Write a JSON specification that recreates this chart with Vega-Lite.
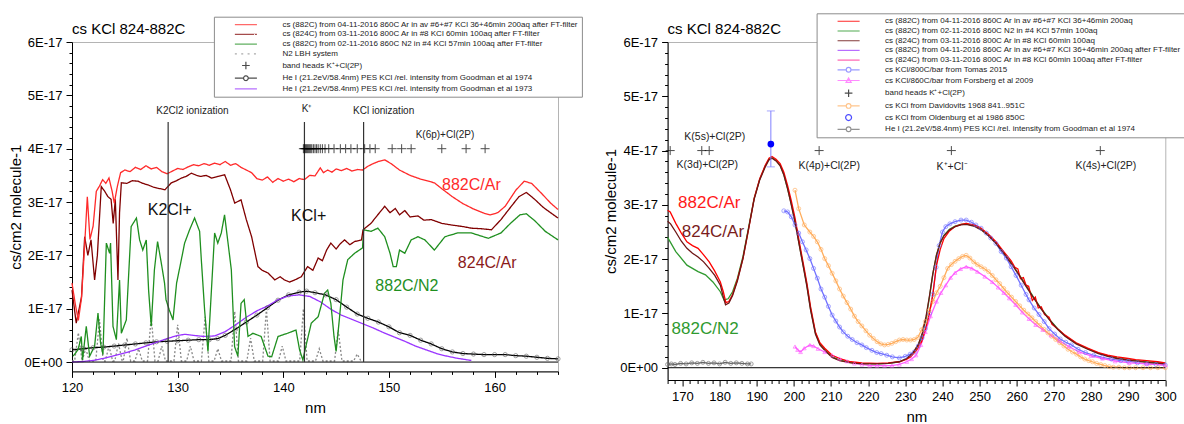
{
"$schema":"https://vega.github.io/schema/vega-lite/v6.json",
"background":"white",
"padding":{"left":7,"top":12,"right":2,"bottom":0},
"config":{"font":"Liberation Sans","view":{"stroke":"#b4b4b4","strokeWidth":1},
"axis":{"grid":false,"domainColor":"#000","tickColor":"#000","labelColor":"#000","titleColor":"#000","titleFontWeight":"normal","labelFont":"Liberation Sans","titleFont":"Liberation Sans"},
"title":{"fontSize":15,"fontWeight":"normal","anchor":"start","frame":"group","color":"#000","font":"Liberation Sans"}},
"datasets":{
"L":[
{"s":"n","nm":120.0,"cs":0.02},{"s":"n","nm":120.25,"cs":0.02},{"s":"n","nm":120.6,"cs":0.55},{"s":"n","nm":120.95,"cs":0.02},{"s":"n","nm":121.3,"cs":0.25},{"s":"n","nm":121.65,"cs":0.02},{"s":"n","nm":122.25,"cs":0.02},{"s":"n","nm":122.6,"cs":0.8},{"s":"n","nm":122.95,"cs":0.02},{"s":"n","nm":123.15,"cs":0.02},{"s":"n","nm":123.5,"cs":0.3},{"s":"n","nm":123.85,"cs":0.02},{"s":"n","nm":124.05,"cs":0.02},{"s":"n","nm":124.4,"cs":0.35},{"s":"n","nm":124.75,"cs":0.02},{"s":"n","nm":124.85,"cs":0.02},{"s":"n","nm":125.2,"cs":0.45},{"s":"n","nm":125.55,"cs":0.02},{"s":"n","nm":125.95,"cs":0.02},{"s":"n","nm":126.3,"cs":0.25},{"s":"n","nm":126.65,"cs":0.02},{"s":"n","nm":127.15,"cs":0.02},{"s":"n","nm":127.5,"cs":0.85},{"s":"n","nm":127.85,"cs":0.02},{"s":"n","nm":128.15,"cs":0.02},{"s":"n","nm":128.5,"cs":0.3},{"s":"n","nm":128.85,"cs":0.02},{"s":"n","nm":129.65,"cs":0.02},{"s":"n","nm":130.0,"cs":0.7},{"s":"n","nm":130.35,"cs":0.02},{"s":"n","nm":130.85,"cs":0.02},{"s":"n","nm":131.2,"cs":0.3},{"s":"n","nm":131.55,"cs":0.02},{"s":"n","nm":132.25,"cs":0.02},{"s":"n","nm":132.6,"cs":0.85},{"s":"n","nm":132.95,"cs":0.02},{"s":"n","nm":133.45,"cs":0.02},{"s":"n","nm":133.8,"cs":0.25},{"s":"n","nm":134.15,"cs":0.02},{"s":"n","nm":135.05,"cs":0.02},{"s":"n","nm":135.4,"cs":0.95},{"s":"n","nm":135.75,"cs":0.02},{"s":"n","nm":136.55,"cs":0.02},{"s":"n","nm":136.9,"cs":0.45},{"s":"n","nm":137.25,"cs":0.02},{"s":"n","nm":138.05,"cs":0.02},{"s":"n","nm":138.4,"cs":1.0},{"s":"n","nm":138.75,"cs":0.02},{"s":"n","nm":139.55,"cs":0.02},{"s":"n","nm":139.9,"cs":0.3},{"s":"n","nm":140.25,"cs":0.02},{"s":"n","nm":141.55,"cs":0.02},{"s":"n","nm":141.9,"cs":1.0},{"s":"n","nm":142.25,"cs":0.02},{"s":"n","nm":143.05,"cs":0.02},{"s":"n","nm":143.4,"cs":0.25},{"s":"n","nm":143.75,"cs":0.02},{"s":"n","nm":144.85,"cs":0.02},{"s":"n","nm":145.2,"cs":0.6},{"s":"n","nm":145.55,"cs":0.02},{"s":"n","nm":146.65,"cs":0.02},{"s":"n","nm":147.0,"cs":0.15},{"s":"n","nm":147.35,"cs":0.02},
{"s":"k","nm":120,"cs":0.23},{"s":"k","nm":121,"cs":0.25},{"s":"k","nm":122,"cs":0.27},{"s":"k","nm":123,"cs":0.28},{"s":"k","nm":124,"cs":0.3},{"s":"k","nm":125,"cs":0.32},{"s":"k","nm":126,"cs":0.34},{"s":"k","nm":127,"cs":0.36},{"s":"k","nm":128,"cs":0.38},{"s":"k","nm":129,"cs":0.39},{"s":"k","nm":130,"cs":0.4},{"s":"k","nm":131,"cs":0.41},{"s":"k","nm":132,"cs":0.42},{"s":"k","nm":133,"cs":0.42},{"s":"k","nm":133.8,"cs":0.44},{"s":"k","nm":134.5,"cs":0.5},{"s":"k","nm":135.5,"cs":0.62},{"s":"k","nm":136.5,"cs":0.75},{"s":"k","nm":137.5,"cs":0.88},{"s":"k","nm":138.5,"cs":1.02},{"s":"k","nm":139.5,"cs":1.16},{"s":"k","nm":140.5,"cs":1.26},{"s":"k","nm":141.5,"cs":1.31},{"s":"k","nm":142.2,"cs":1.33},{"s":"k","nm":143,"cs":1.3},{"s":"k","nm":144,"cs":1.26},{"s":"k","nm":145,"cs":1.17},{"s":"k","nm":146,"cs":1.03},{"s":"k","nm":147,"cs":0.9},{"s":"k","nm":148,"cs":0.82},{"s":"k","nm":149,"cs":0.75},{"s":"k","nm":150,"cs":0.66},{"s":"k","nm":151,"cs":0.55},{"s":"k","nm":152,"cs":0.5},{"s":"k","nm":153,"cs":0.41},{"s":"k","nm":154,"cs":0.34},{"s":"k","nm":155,"cs":0.25},{"s":"k","nm":156,"cs":0.19},{"s":"k","nm":157,"cs":0.16},{"s":"k","nm":158,"cs":0.15},{"s":"k","nm":159,"cs":0.14},{"s":"k","nm":160,"cs":0.14},{"s":"k","nm":161,"cs":0.14},{"s":"k","nm":162,"cs":0.12},{"s":"k","nm":163,"cs":0.11},{"s":"k","nm":164,"cs":0.09},{"s":"k","nm":165,"cs":0.07},{"s":"k","nm":166,"cs":0.06},
{"s":"p","nm":120,"cs":0},{"s":"p","nm":121,"cs":0.01},{"s":"p","nm":122,"cs":0.03},{"s":"p","nm":123,"cs":0.07},{"s":"p","nm":124,"cs":0.12},{"s":"p","nm":125,"cs":0.17},{"s":"p","nm":126,"cs":0.23},{"s":"p","nm":127,"cs":0.3},{"s":"p","nm":128,"cs":0.37},{"s":"p","nm":129,"cs":0.44},{"s":"p","nm":130,"cs":0.5},{"s":"p","nm":130.7,"cs":0.52},{"s":"p","nm":131.5,"cs":0.5},{"s":"p","nm":132.5,"cs":0.48},{"s":"p","nm":133.5,"cs":0.49},{"s":"p","nm":134.5,"cs":0.57},{"s":"p","nm":135.5,"cs":0.7},{"s":"p","nm":136.5,"cs":0.84},{"s":"p","nm":137.5,"cs":0.96},{"s":"p","nm":138.5,"cs":1.05},{"s":"p","nm":139.5,"cs":1.17},{"s":"p","nm":140.5,"cs":1.24},{"s":"p","nm":141.5,"cs":1.26},{"s":"p","nm":142.5,"cs":1.23},{"s":"p","nm":143.5,"cs":1.13},{"s":"p","nm":144.5,"cs":0.99},{"s":"p","nm":145.5,"cs":0.88},{"s":"p","nm":146.5,"cs":0.8},{"s":"p","nm":147.5,"cs":0.72},{"s":"p","nm":148.5,"cs":0.64},{"s":"p","nm":149.5,"cs":0.55},{"s":"p","nm":150.5,"cs":0.47},{"s":"p","nm":151.5,"cs":0.39},{"s":"p","nm":152.5,"cs":0.3},{"s":"p","nm":153.5,"cs":0.23},{"s":"p","nm":154.5,"cs":0.16},{"s":"p","nm":155.5,"cs":0.11},{"s":"p","nm":156.5,"cs":0.07},{"s":"p","nm":157.8,"cs":0.03},
{"s":"g","nm":120.1,"cs":0.11},{"s":"g","nm":120.57,"cs":0.23},{"s":"g","nm":120.88,"cs":0.48},{"s":"g","nm":121.0,"cs":0.04},{"s":"g","nm":121.35,"cs":0.67},{"s":"g","nm":121.67,"cs":0.11},{"s":"g","nm":122.14,"cs":0.3},{"s":"g","nm":122.46,"cs":0.92},{"s":"g","nm":122.7,"cs":0.36},{"s":"g","nm":122.93,"cs":0.14},{"s":"g","nm":123.25,"cs":2.23},{"s":"g","nm":123.56,"cs":2.04},{"s":"g","nm":123.65,"cs":2.23},{"s":"g","nm":123.88,"cs":0.67},{"s":"g","nm":124.2,"cs":0.42},{"s":"g","nm":124.5,"cs":1.54},{"s":"g","nm":124.67,"cs":0.54},{"s":"g","nm":125.14,"cs":0.79},{"s":"g","nm":125.6,"cs":2.54},{"s":"g","nm":126.1,"cs":2.7},{"s":"g","nm":126.4,"cs":2.29},{"s":"g","nm":126.7,"cs":2.1},{"s":"g","nm":127.03,"cs":2.29},{"s":"g","nm":127.25,"cs":1.35},{"s":"g","nm":127.5,"cs":0.67},{"s":"g","nm":127.8,"cs":1.73},{"s":"g","nm":128.1,"cs":2.26},{"s":"g","nm":128.45,"cs":1.86},{"s":"g","nm":128.76,"cs":1.48},{"s":"g","nm":128.9,"cs":1.17},{"s":"g","nm":129.2,"cs":0.98},{"s":"g","nm":129.56,"cs":0.79},{"s":"g","nm":129.9,"cs":1.48},{"s":"g","nm":130.35,"cs":1.92},{"s":"g","nm":130.66,"cs":2.23},{"s":"g","nm":131.13,"cs":2.48},{"s":"g","nm":131.6,"cs":2.7},{"s":"g","nm":132.08,"cs":2.45},{"s":"g","nm":132.24,"cs":1.92},{"s":"g","nm":132.55,"cs":0.98},{"s":"g","nm":132.87,"cs":0.2},{"s":"g","nm":133.18,"cs":1.29},{"s":"g","nm":133.5,"cs":2.42},{"s":"g","nm":133.8,"cs":2.23},{"s":"g","nm":134.13,"cs":2.42},{"s":"g","nm":134.44,"cs":2.76},{"s":"g","nm":134.77,"cs":2.23},{"s":"g","nm":135.08,"cs":1.73},{"s":"g","nm":135.39,"cs":0.29},{"s":"g","nm":135.7,"cs":0.11},{"s":"g","nm":136.0,"cs":1.1},{"s":"g","nm":136.3,"cs":1.17},{"s":"g","nm":136.66,"cs":0.48},{"s":"g","nm":137.13,"cs":0.54},{"s":"g","nm":137.9,"cs":0.48},{"s":"g","nm":138.55,"cs":0.11},{"s":"g","nm":138.9,"cs":0.1},{"s":"g","nm":139.5,"cs":0.48},{"s":"g","nm":140.4,"cs":0.54},{"s":"g","nm":141.2,"cs":0.6},{"s":"g","nm":141.54,"cs":0.23},{"s":"g","nm":141.85,"cs":0.04},{"s":"g","nm":142.2,"cs":0.35},{"s":"g","nm":142.65,"cs":0.73},{"s":"g","nm":143.3,"cs":0.85},{"s":"g","nm":143.9,"cs":1.29},{"s":"g","nm":144.2,"cs":1.35},{"s":"g","nm":144.5,"cs":1.1},{"s":"g","nm":144.8,"cs":0.48},{"s":"g","nm":145.0,"cs":0.2},{"s":"g","nm":145.3,"cs":0.79},{"s":"g","nm":145.65,"cs":1.54},{"s":"g","nm":146.1,"cs":1.92},{"s":"g","nm":146.75,"cs":2.04},{"s":"g","nm":147.2,"cs":2.1},{"s":"g","nm":147.5,"cs":2.14},{"s":"g","nm":147.6,"cs":2.48},{"s":"g","nm":148.3,"cs":2.45},{"s":"g","nm":148.95,"cs":2.51},{"s":"g","nm":149.6,"cs":2.35},{"s":"g","nm":150.1,"cs":2.04},{"s":"g","nm":150.4,"cs":1.79},{"s":"g","nm":150.7,"cs":1.79},{"s":"g","nm":151.0,"cs":2.1},{"s":"g","nm":151.5,"cs":2.04},{"s":"g","nm":152.1,"cs":2.29},{"s":"g","nm":152.75,"cs":2.35},{"s":"g","nm":153.4,"cs":2.29},{"s":"g","nm":154.3,"cs":2.1},{"s":"g","nm":155.3,"cs":2.35},{"s":"g","nm":156.5,"cs":2.42},{"s":"g","nm":157.8,"cs":2.42},{"s":"g","nm":159.4,"cs":2.32},{"s":"g","nm":160.6,"cs":2.42},{"s":"g","nm":161.5,"cs":2.6},{"s":"g","nm":162.4,"cs":2.76},{"s":"g","nm":163.0,"cs":2.78},{"s":"g","nm":163.8,"cs":2.65},{"s":"g","nm":164.8,"cs":2.45},{"s":"g","nm":166.0,"cs":2.29},
{"s":"m","nm":120.0,"cs":1.35},{"s":"m","nm":120.4,"cs":0.73},{"s":"m","nm":120.9,"cs":1.22},{"s":"m","nm":121.2,"cs":2.35},{"s":"m","nm":121.5,"cs":2.0},{"s":"m","nm":121.8,"cs":2.29},{"s":"m","nm":122.14,"cs":1.54},{"s":"m","nm":122.4,"cs":2.0},{"s":"m","nm":122.77,"cs":3.29},{"s":"m","nm":123.1,"cs":3.2},{"s":"m","nm":123.4,"cs":3.1},{"s":"m","nm":123.7,"cs":3.05},{"s":"m","nm":123.9,"cs":2.6},{"s":"m","nm":124.1,"cs":3.05},{"s":"m","nm":124.35,"cs":1.54},{"s":"m","nm":124.5,"cs":2.8},{"s":"m","nm":124.67,"cs":3.36},{"s":"m","nm":125.2,"cs":3.35},{"s":"m","nm":125.7,"cs":3.4},{"s":"m","nm":126.25,"cs":3.39},{"s":"m","nm":126.7,"cs":3.35},{"s":"m","nm":127.2,"cs":3.32},{"s":"m","nm":127.7,"cs":3.28},{"s":"m","nm":128.1,"cs":3.26},{"s":"m","nm":128.8,"cs":3.23},{"s":"m","nm":129.4,"cs":3.36},{"s":"m","nm":129.9,"cs":3.4},{"s":"m","nm":130.35,"cs":3.45},{"s":"m","nm":130.8,"cs":3.48},{"s":"m","nm":131.3,"cs":3.54},{"s":"m","nm":131.8,"cs":3.5},{"s":"m","nm":132.2,"cs":3.48},{"s":"m","nm":132.7,"cs":3.5},{"s":"m","nm":133.2,"cs":3.45},{"s":"m","nm":133.8,"cs":3.48},{"s":"m","nm":134.45,"cs":3.51},{"s":"m","nm":135.0,"cs":3.23},{"s":"m","nm":135.4,"cs":2.98},{"s":"m","nm":136.0,"cs":3.04},{"s":"m","nm":136.5,"cs":2.67},{"s":"m","nm":137.0,"cs":2.35},{"s":"m","nm":137.6,"cs":1.79},{"s":"m","nm":138.0,"cs":1.72},{"s":"m","nm":138.55,"cs":1.67},{"s":"m","nm":139.2,"cs":1.54},{"s":"m","nm":139.7,"cs":1.6},{"s":"m","nm":140.1,"cs":1.54},{"s":"m","nm":140.6,"cs":1.5},{"s":"m","nm":141.2,"cs":1.55},{"s":"m","nm":141.7,"cs":1.6},{"s":"m","nm":142.3,"cs":1.79},{"s":"m","nm":142.8,"cs":1.72},{"s":"m","nm":143.3,"cs":1.95},{"s":"m","nm":143.7,"cs":1.9},{"s":"m","nm":144.1,"cs":2.1},{"s":"m","nm":144.5,"cs":2.23},{"s":"m","nm":145.0,"cs":2.12},{"s":"m","nm":145.4,"cs":2.22},{"s":"m","nm":145.8,"cs":2.29},{"s":"m","nm":146.3,"cs":2.2},{"s":"m","nm":146.75,"cs":2.26},{"s":"m","nm":147.4,"cs":2.29},{"s":"m","nm":147.55,"cs":2.48},{"s":"m","nm":148.3,"cs":2.6},{"s":"m","nm":148.9,"cs":2.75},{"s":"m","nm":149.6,"cs":2.92},{"s":"m","nm":150.1,"cs":2.8},{"s":"m","nm":150.6,"cs":2.88},{"s":"m","nm":151.0,"cs":2.76},{"s":"m","nm":151.5,"cs":2.84},{"s":"m","nm":152.0,"cs":2.72},{"s":"m","nm":152.75,"cs":2.74},{"s":"m","nm":153.3,"cs":2.66},{"s":"m","nm":154.0,"cs":2.67},{"s":"m","nm":155.0,"cs":2.6},{"s":"m","nm":155.9,"cs":2.57},{"s":"m","nm":157.0,"cs":2.54},{"s":"m","nm":157.8,"cs":2.51},{"s":"m","nm":158.7,"cs":2.5},{"s":"m","nm":159.7,"cs":2.48},{"s":"m","nm":160.6,"cs":2.67},{"s":"m","nm":161.5,"cs":2.9},{"s":"m","nm":162.3,"cs":3.1},{"s":"m","nm":163.0,"cs":3.18},{"s":"m","nm":163.8,"cs":3.05},{"s":"m","nm":164.6,"cs":2.9},{"s":"m","nm":165.3,"cs":2.8},{"s":"m","nm":166.0,"cs":2.7},
{"s":"r","nm":120.0,"cs":1.48},{"s":"r","nm":120.3,"cs":1.1},{"s":"r","nm":120.6,"cs":0.78},{"s":"r","nm":120.9,"cs":1.2},{"s":"r","nm":121.2,"cs":2.2},{"s":"r","nm":121.45,"cs":3.1},{"s":"r","nm":121.7,"cs":2.3},{"s":"r","nm":122.0,"cs":2.55},{"s":"r","nm":122.3,"cs":3.2},{"s":"r","nm":122.6,"cs":3.3},{"s":"r","nm":122.9,"cs":3.42},{"s":"r","nm":123.2,"cs":3.35},{"s":"r","nm":123.5,"cs":3.45},{"s":"r","nm":123.8,"cs":3.2},{"s":"r","nm":124.0,"cs":2.98},{"s":"r","nm":124.3,"cs":3.3},{"s":"r","nm":124.6,"cs":3.55},{"s":"r","nm":125.0,"cs":3.6},{"s":"r","nm":125.5,"cs":3.57},{"s":"r","nm":126.0,"cs":3.65},{"s":"r","nm":126.5,"cs":3.61},{"s":"r","nm":127.0,"cs":3.68},{"s":"r","nm":127.5,"cs":3.62},{"s":"r","nm":128.0,"cs":3.65},{"s":"r","nm":128.5,"cs":3.57},{"s":"r","nm":129.0,"cs":3.53},{"s":"r","nm":129.5,"cs":3.58},{"s":"r","nm":130.0,"cs":3.63},{"s":"r","nm":130.5,"cs":3.61},{"s":"r","nm":131.0,"cs":3.66},{"s":"r","nm":131.5,"cs":3.7},{"s":"r","nm":132.0,"cs":3.68},{"s":"r","nm":132.5,"cs":3.72},{"s":"r","nm":133.0,"cs":3.69},{"s":"r","nm":133.5,"cs":3.73},{"s":"r","nm":134.0,"cs":3.7},{"s":"r","nm":134.5,"cs":3.76},{"s":"r","nm":135.0,"cs":3.69},{"s":"r","nm":135.5,"cs":3.72},{"s":"r","nm":136.0,"cs":3.65},{"s":"r","nm":136.5,"cs":3.6},{"s":"r","nm":137.0,"cs":3.55},{"s":"r","nm":137.5,"cs":3.44},{"s":"r","nm":138.0,"cs":3.41},{"s":"r","nm":138.5,"cs":3.47},{"s":"r","nm":139.0,"cs":3.37},{"s":"r","nm":139.5,"cs":3.44},{"s":"r","nm":140.0,"cs":3.39},{"s":"r","nm":140.5,"cs":3.43},{"s":"r","nm":141.0,"cs":3.38},{"s":"r","nm":141.5,"cs":3.44},{"s":"r","nm":142.0,"cs":3.42},{"s":"r","nm":142.5,"cs":3.5},{"s":"r","nm":143.0,"cs":3.49},{"s":"r","nm":143.5,"cs":3.64},{"s":"r","nm":143.8,"cs":3.55},{"s":"r","nm":144.2,"cs":3.6},{"s":"r","nm":144.6,"cs":3.56},{"s":"r","nm":145.0,"cs":3.62},{"s":"r","nm":145.5,"cs":3.59},{"s":"r","nm":146.0,"cs":3.63},{"s":"r","nm":146.5,"cs":3.58},{"s":"r","nm":147.0,"cs":3.61},{"s":"r","nm":147.5,"cs":3.6},{"s":"r","nm":148.0,"cs":3.67},{"s":"r","nm":148.5,"cs":3.72},{"s":"r","nm":149.0,"cs":3.76},{"s":"r","nm":149.6,"cs":3.79},{"s":"r","nm":150.2,"cs":3.72},{"s":"r","nm":151.0,"cs":3.6},{"s":"r","nm":152.0,"cs":3.5},{"s":"r","nm":153.0,"cs":3.43},{"s":"r","nm":154.3,"cs":3.36},{"s":"r","nm":155.0,"cs":3.25},{"s":"r","nm":156.0,"cs":3.1},{"s":"r","nm":157.0,"cs":2.97},{"s":"r","nm":158.0,"cs":2.87},{"s":"r","nm":159.0,"cs":2.79},{"s":"r","nm":159.6,"cs":2.76},{"s":"r","nm":160.3,"cs":2.8},{"s":"r","nm":161.0,"cs":2.92},{"s":"r","nm":162.0,"cs":3.22},{"s":"r","nm":162.8,"cs":3.39},{"s":"r","nm":163.5,"cs":3.35},{"s":"r","nm":164.5,"cs":3.15},{"s":"r","nm":165.3,"cs":2.98},{"s":"r","nm":166.0,"cs":2.86}
],
"R":[
{"s":"k","nm":166,"cs":0.06},{"s":"k","nm":167,"cs":0.07},{"s":"k","nm":168,"cs":0.06},{"s":"k","nm":169.5,"cs":0.08},{"s":"k","nm":171,"cs":0.07},{"s":"k","nm":172.5,"cs":0.09},{"s":"k","nm":174,"cs":0.08},{"s":"k","nm":175.5,"cs":0.1},{"s":"k","nm":177,"cs":0.08},{"s":"k","nm":178.5,"cs":0.09},{"s":"k","nm":180,"cs":0.07},{"s":"k","nm":181.5,"cs":0.1},{"s":"k","nm":183,"cs":0.08},{"s":"k","nm":184.5,"cs":0.09},{"s":"k","nm":186,"cs":0.08},{"s":"k","nm":187.5,"cs":0.07},{"s":"k","nm":188.5,"cs":0.07},
{"s":"t","nm":197.3,"cs":2.89},{"s":"t","nm":198.3,"cs":2.87},{"s":"t","nm":199.3,"cs":2.78},{"s":"t","nm":200.3,"cs":2.63},{"s":"t","nm":201.3,"cs":2.48},{"s":"t","nm":202.3,"cs":2.32},{"s":"t","nm":203.3,"cs":2.17},{"s":"t","nm":204.3,"cs":2.01},{"s":"t","nm":205.3,"cs":1.83},{"s":"t","nm":206.3,"cs":1.65},{"s":"t","nm":207.3,"cs":1.45},{"s":"t","nm":208.3,"cs":1.3},{"s":"t","nm":209.3,"cs":1.13},{"s":"t","nm":210.3,"cs":0.97},{"s":"t","nm":211.3,"cs":0.86},{"s":"t","nm":212.3,"cs":0.75},{"s":"t","nm":213.3,"cs":0.66},{"s":"t","nm":214.5,"cs":0.58},{"s":"t","nm":215.7,"cs":0.52},{"s":"t","nm":217,"cs":0.46},{"s":"t","nm":218.3,"cs":0.42},{"s":"t","nm":219.5,"cs":0.37},{"s":"t","nm":221,"cs":0.32},{"s":"t","nm":222.3,"cs":0.28},{"s":"t","nm":223.5,"cs":0.26},{"s":"t","nm":225,"cs":0.23},{"s":"t","nm":226.5,"cs":0.2},{"s":"t","nm":228.4,"cs":0.18},{"s":"t","nm":230,"cs":0.21},{"s":"t","nm":231.3,"cs":0.25},{"s":"t","nm":232.4,"cs":0.29},{"s":"t","nm":233.5,"cs":0.4},{"s":"t","nm":234.5,"cs":0.55},{"s":"t","nm":235.4,"cs":0.72},{"s":"t","nm":236.5,"cs":1.0},{"s":"t","nm":237.4,"cs":1.35},{"s":"t","nm":238.3,"cs":1.85},{"s":"t","nm":239.1,"cs":2.25},{"s":"t","nm":240,"cs":2.5},{"s":"t","nm":240.9,"cs":2.6},{"s":"t","nm":242,"cs":2.65},{"s":"t","nm":243.4,"cs":2.69},{"s":"t","nm":245,"cs":2.72},{"s":"t","nm":246.4,"cs":2.72},{"s":"t","nm":247.8,"cs":2.68},{"s":"t","nm":249,"cs":2.63},{"s":"t","nm":250.4,"cs":2.57},{"s":"t","nm":251.8,"cs":2.48},{"s":"t","nm":253,"cs":2.39},{"s":"t","nm":254.4,"cs":2.29},{"s":"t","nm":255.8,"cs":2.14},{"s":"t","nm":257.2,"cs":2.02},{"s":"t","nm":258.5,"cs":1.86},{"s":"t","nm":259.8,"cs":1.7},{"s":"t","nm":261.2,"cs":1.52},{"s":"t","nm":262.5,"cs":1.35},{"s":"t","nm":263.3,"cs":1.25},{"s":"t","nm":264.7,"cs":1.1},{"s":"t","nm":266,"cs":0.98},{"s":"t","nm":267.4,"cs":0.85},{"s":"t","nm":268.7,"cs":0.72},{"s":"t","nm":270.2,"cs":0.62},{"s":"t","nm":271.7,"cs":0.53},{"s":"t","nm":273.2,"cs":0.47},{"s":"t","nm":274.7,"cs":0.42},{"s":"t","nm":276.5,"cs":0.34},{"s":"t","nm":278.5,"cs":0.28},{"s":"t","nm":280.7,"cs":0.23},{"s":"t","nm":283,"cs":0.19},{"s":"t","nm":285.5,"cs":0.16},{"s":"t","nm":288,"cs":0.13},{"s":"t","nm":290,"cs":0.12},{"s":"t","nm":292.5,"cs":0.09},{"s":"t","nm":295,"cs":0.07},{"s":"t","nm":297.5,"cs":0.06},{"s":"t","nm":300,"cs":0.05},
{"s":"fo","nm":200.3,"cs":0.39},{"s":"fo","nm":201,"cs":0.33},{"s":"fo","nm":201.8,"cs":0.29},{"s":"fo","nm":202.8,"cs":0.36},{"s":"fo","nm":204.3,"cs":0.42},{"s":"fo","nm":205.3,"cs":0.4},{"s":"fo","nm":206.5,"cs":0.35},{"s":"fo","nm":208.3,"cs":0.29},{"s":"fo","nm":210.3,"cs":0.23},{"s":"fo","nm":212.3,"cs":0.17},{"s":"fo","nm":214.3,"cs":0.12},{"s":"fo","nm":216.3,"cs":0.08},{"s":"fo","nm":218.3,"cs":0.06},{"s":"fo","nm":220.4,"cs":0.04},{"s":"fo","nm":222.4,"cs":0.04},{"s":"fo","nm":224.4,"cs":0.04},{"s":"fo","nm":226.4,"cs":0.04},{"s":"fo","nm":228.4,"cs":0.06},{"s":"fo","nm":230.4,"cs":0.11},{"s":"fo","nm":231.7,"cs":0.16},{"s":"fo","nm":232.9,"cs":0.23},{"s":"fo","nm":234.2,"cs":0.42},{"s":"fo","nm":235.4,"cs":0.66},{"s":"fo","nm":236.8,"cs":0.95},{"s":"fo","nm":238.4,"cs":1.22},{"s":"fo","nm":239.6,"cs":1.38},{"s":"fo","nm":240.9,"cs":1.52},{"s":"fo","nm":242.2,"cs":1.66},{"s":"fo","nm":243.4,"cs":1.75},{"s":"fo","nm":244.9,"cs":1.82},{"s":"fo","nm":246.4,"cs":1.86},{"s":"fo","nm":247.9,"cs":1.83},{"s":"fo","nm":249.4,"cs":1.77},{"s":"fo","nm":251.4,"cs":1.68},{"s":"fo","nm":253.4,"cs":1.58},{"s":"fo","nm":255,"cs":1.48},{"s":"fo","nm":256.5,"cs":1.38},{"s":"fo","nm":258,"cs":1.28},{"s":"fo","nm":259.7,"cs":1.16},{"s":"fo","nm":261.5,"cs":1.02},{"s":"fo","nm":263.3,"cs":0.9},{"s":"fo","nm":265.1,"cs":0.79},{"s":"fo","nm":267,"cs":0.7},{"s":"fo","nm":269.2,"cs":0.6},{"s":"fo","nm":271.4,"cs":0.5},{"s":"fo","nm":274,"cs":0.39},{"s":"fo","nm":276.8,"cs":0.29},{"s":"fo","nm":280,"cs":0.22},{"s":"fo","nm":283.1,"cs":0.17},{"s":"fo","nm":286.5,"cs":0.12},{"s":"fo","nm":290.3,"cs":0.09},{"s":"fo","nm":295,"cs":0.07},{"s":"fo","nm":300,"cs":0.05},
{"s":"d","nm":200.3,"cs":3.27},{"s":"d","nm":201.3,"cs":2.93},{"s":"d","nm":202.8,"cs":2.63},{"s":"d","nm":204.3,"cs":2.5},{"s":"d","nm":205.3,"cs":2.42},{"s":"d","nm":206.3,"cs":2.32},{"s":"d","nm":207.3,"cs":2.18},{"s":"d","nm":208.3,"cs":2.01},{"s":"d","nm":209.3,"cs":1.88},{"s":"d","nm":210.3,"cs":1.74},{"s":"d","nm":211.3,"cs":1.6},{"s":"d","nm":212.3,"cs":1.45},{"s":"d","nm":213.3,"cs":1.32},{"s":"d","nm":214.3,"cs":1.2},{"s":"d","nm":215.3,"cs":1.08},{"s":"d","nm":216.3,"cs":0.95},{"s":"d","nm":217.3,"cs":0.85},{"s":"d","nm":218.3,"cs":0.77},{"s":"d","nm":219.4,"cs":0.68},{"s":"d","nm":220.4,"cs":0.6},{"s":"d","nm":221.4,"cs":0.54},{"s":"d","nm":222.4,"cs":0.48},{"s":"d","nm":223.4,"cs":0.44},{"s":"d","nm":224.4,"cs":0.42},{"s":"d","nm":225.4,"cs":0.43},{"s":"d","nm":226.4,"cs":0.45},{"s":"d","nm":227.4,"cs":0.48},{"s":"d","nm":228.4,"cs":0.51},{"s":"d","nm":229.4,"cs":0.52},{"s":"d","nm":230.4,"cs":0.51},{"s":"d","nm":231.4,"cs":0.51},{"s":"d","nm":232.4,"cs":0.52},{"s":"d","nm":233.4,"cs":0.56},{"s":"d","nm":234.4,"cs":0.7},{"s":"d","nm":235.4,"cs":0.85},{"s":"d","nm":236.4,"cs":1.05},{"s":"d","nm":237.4,"cs":1.22},{"s":"d","nm":238.4,"cs":1.38},{"s":"d","nm":239.4,"cs":1.5},{"s":"d","nm":240.4,"cs":1.66},{"s":"d","nm":241.4,"cs":1.83},{"s":"d","nm":242.4,"cs":1.9},{"s":"d","nm":243.4,"cs":1.96},{"s":"d","nm":244.4,"cs":2.01},{"s":"d","nm":245.4,"cs":2.05},{"s":"d","nm":246.4,"cs":2.07},{"s":"d","nm":247.4,"cs":2.02},{"s":"d","nm":248.4,"cs":1.95},{"s":"d","nm":249.4,"cs":1.9},{"s":"d","nm":250.4,"cs":1.86},{"s":"d","nm":251.4,"cs":1.82},{"s":"d","nm":252.4,"cs":1.77},{"s":"d","nm":253.4,"cs":1.7},{"s":"d","nm":254.4,"cs":1.62},{"s":"d","nm":255.4,"cs":1.55},{"s":"d","nm":256.5,"cs":1.46},{"s":"d","nm":257.5,"cs":1.38},{"s":"d","nm":258.6,"cs":1.3},{"s":"d","nm":259.7,"cs":1.22},{"s":"d","nm":260.8,"cs":1.14},{"s":"d","nm":261.9,"cs":1.06},{"s":"d","nm":263,"cs":0.99},{"s":"d","nm":264.1,"cs":0.92},{"s":"d","nm":265.1,"cs":0.85},{"s":"d","nm":266.2,"cs":0.78},{"s":"d","nm":267.3,"cs":0.71},{"s":"d","nm":268.4,"cs":0.64},{"s":"d","nm":269.4,"cs":0.58},{"s":"d","nm":270.5,"cs":0.52},{"s":"d","nm":271.6,"cs":0.46},{"s":"d","nm":272.7,"cs":0.4},{"s":"d","nm":273.8,"cs":0.34},{"s":"d","nm":275,"cs":0.29},{"s":"d","nm":276.1,"cs":0.25},{"s":"d","nm":277.2,"cs":0.2},{"s":"d","nm":278.3,"cs":0.16},{"s":"d","nm":279.4,"cs":0.13},{"s":"d","nm":280.4,"cs":0.11},{"s":"d","nm":281.5,"cs":0.08},{"s":"d","nm":282.6,"cs":0.06},{"s":"d","nm":283.7,"cs":0.04},{"s":"d","nm":284.9,"cs":0.02},{"s":"d","nm":286,"cs":0.01},{"s":"d","nm":287.5,"cs":0.01},{"s":"d","nm":289,"cs":0},{"s":"d","nm":290.3,"cs":0},{"s":"d","nm":292,"cs":0},{"s":"d","nm":294,"cs":0},{"s":"d","nm":296,"cs":0},{"s":"d","nm":298,"cs":0},{"s":"d","nm":300,"cs":0},
{"s":"g","nm":166.0,"cs":2.4},{"s":"g","nm":168.2,"cs":2.14},{"s":"g","nm":171.2,"cs":1.89},{"s":"g","nm":174.2,"cs":1.77},{"s":"g","nm":176.2,"cs":1.71},{"s":"g","nm":178.2,"cs":1.58},{"s":"g","nm":180.2,"cs":1.4},{"s":"g","nm":181.2,"cs":1.25},{"s":"g","nm":182.3,"cs":1.27},{"s":"g","nm":183.5,"cs":1.4},{"s":"g","nm":184.8,"cs":1.65},{"s":"g","nm":186.3,"cs":2.05},{"s":"g","nm":187.8,"cs":2.58},{"s":"g","nm":189.3,"cs":3.12},{"s":"g","nm":190.8,"cs":3.47},{"s":"g","nm":192.3,"cs":3.72},{"s":"g","nm":193.3,"cs":3.84},{"s":"g","nm":194.1,"cs":3.87},{"s":"g","nm":195.2,"cs":3.82},{"s":"g","nm":196.3,"cs":3.73},{"s":"g","nm":197.3,"cs":3.56},{"s":"g","nm":198.3,"cs":3.3},{"s":"g","nm":199.3,"cs":3.02},{"s":"g","nm":200.3,"cs":2.7},{"s":"g","nm":201.5,"cs":2.25},{"s":"g","nm":202.8,"cs":1.78},{"s":"g","nm":203.5,"cs":1.52},{"s":"g","nm":204.5,"cs":1.08},{"s":"g","nm":205.8,"cs":0.64},{"s":"g","nm":207,"cs":0.44},{"s":"g","nm":208.3,"cs":0.34},{"s":"g","nm":210.3,"cs":0.2},{"s":"g","nm":212.3,"cs":0.14},{"s":"g","nm":215.3,"cs":0.1},{"s":"g","nm":218.3,"cs":0.08},{"s":"g","nm":222.4,"cs":0.07},{"s":"g","nm":225.4,"cs":0.08},{"s":"g","nm":228.4,"cs":0.11},{"s":"g","nm":230.4,"cs":0.17},{"s":"g","nm":232,"cs":0.26},{"s":"g","nm":233.5,"cs":0.42},{"s":"g","nm":234.6,"cs":0.62},{"s":"g","nm":235.6,"cs":0.92},{"s":"g","nm":236.5,"cs":1.3},{"s":"g","nm":237.4,"cs":1.72},{"s":"g","nm":238.4,"cs":2.08},{"s":"g","nm":239.4,"cs":2.3},{"s":"g","nm":240.4,"cs":2.44},{"s":"g","nm":241.9,"cs":2.55},{"s":"g","nm":243.4,"cs":2.61},{"s":"g","nm":245,"cs":2.64},{"s":"g","nm":246.4,"cs":2.65},{"s":"g","nm":248.4,"cs":2.62},{"s":"g","nm":250.4,"cs":2.55},{"s":"g","nm":252.4,"cs":2.44},{"s":"g","nm":254.4,"cs":2.3},{"s":"g","nm":256.5,"cs":2.12},{"s":"g","nm":258.5,"cs":1.93},{"s":"g","nm":260.5,"cs":1.73},{"s":"g","nm":262.5,"cs":1.52},{"s":"g","nm":264.5,"cs":1.3},{"s":"g","nm":266.5,"cs":1.1},{"s":"g","nm":268.7,"cs":0.9},{"s":"g","nm":271,"cs":0.72},{"s":"g","nm":273,"cs":0.59},{"s":"g","nm":276,"cs":0.45},{"s":"g","nm":279.1,"cs":0.35},{"s":"g","nm":282,"cs":0.27},{"s":"g","nm":284.5,"cs":0.22},{"s":"g","nm":287,"cs":0.18},{"s":"g","nm":290,"cs":0.15},{"s":"g","nm":295,"cs":0.11},{"s":"g","nm":300,"cs":0.08},
{"s":"r","nm":166.0,"cs":2.9},{"s":"r","nm":166.7,"cs":2.87},{"s":"r","nm":168.2,"cs":2.66},{"s":"r","nm":169.7,"cs":2.48},{"s":"r","nm":171.2,"cs":2.32},{"s":"r","nm":172.7,"cs":2.25},{"s":"r","nm":174.2,"cs":2.2},{"s":"r","nm":175.7,"cs":2.08},{"s":"r","nm":177.2,"cs":1.95},{"s":"r","nm":178.7,"cs":1.78},{"s":"r","nm":180.2,"cs":1.58},{"s":"r","nm":181.0,"cs":1.4},{"s":"r","nm":181.7,"cs":1.2},{"s":"r","nm":182.5,"cs":1.22},{"s":"r","nm":183.5,"cs":1.35},{"s":"r","nm":184.8,"cs":1.62},{"s":"r","nm":186.3,"cs":2.01},{"s":"r","nm":187.8,"cs":2.55},{"s":"r","nm":189.3,"cs":3.12},{"s":"r","nm":190.8,"cs":3.48},{"s":"r","nm":192.3,"cs":3.73},{"s":"r","nm":193.3,"cs":3.86},{"s":"r","nm":194.1,"cs":3.89},{"s":"r","nm":195.2,"cs":3.84},{"s":"r","nm":196.3,"cs":3.76},{"s":"r","nm":197.3,"cs":3.6},{"s":"r","nm":198.3,"cs":3.36},{"s":"r","nm":199.3,"cs":3.08},{"s":"r","nm":200.3,"cs":2.76},{"s":"r","nm":201.5,"cs":2.3},{"s":"r","nm":202.8,"cs":1.82},{"s":"r","nm":203.5,"cs":1.56},{"s":"r","nm":204.5,"cs":1.12},{"s":"r","nm":205.8,"cs":0.66},{"s":"r","nm":207,"cs":0.46},{"s":"r","nm":208.3,"cs":0.36},{"s":"r","nm":210.3,"cs":0.23},{"s":"r","nm":212.3,"cs":0.17},{"s":"r","nm":215.3,"cs":0.11},{"s":"r","nm":218.3,"cs":0.09},{"s":"r","nm":222.4,"cs":0.08},{"s":"r","nm":225.4,"cs":0.09},{"s":"r","nm":228.4,"cs":0.11},{"s":"r","nm":230.4,"cs":0.16},{"s":"r","nm":231.4,"cs":0.2},{"s":"r","nm":233,"cs":0.32},{"s":"r","nm":234.4,"cs":0.48},{"s":"r","nm":235.5,"cs":0.72},{"s":"r","nm":236.4,"cs":0.97},{"s":"r","nm":237.4,"cs":1.34},{"s":"r","nm":238.4,"cs":1.89},{"s":"r","nm":239.4,"cs":2.18},{"s":"r","nm":240.4,"cs":2.38},{"s":"r","nm":241.9,"cs":2.52},{"s":"r","nm":243.4,"cs":2.6},{"s":"r","nm":245,"cs":2.64},{"s":"r","nm":246.4,"cs":2.66},{"s":"r","nm":248.4,"cs":2.63},{"s":"r","nm":250.4,"cs":2.57},{"s":"r","nm":252.4,"cs":2.46},{"s":"r","nm":254.4,"cs":2.32},{"s":"r","nm":256.5,"cs":2.14},{"s":"r","nm":258.5,"cs":1.97},{"s":"r","nm":259.5,"cs":1.85},{"s":"r","nm":260.3,"cs":1.82},{"s":"r","nm":261.0,"cs":1.64},{"s":"r","nm":261.8,"cs":1.66},{"s":"r","nm":262.5,"cs":1.52},{"s":"r","nm":263.2,"cs":1.5},{"s":"r","nm":264.2,"cs":1.24},{"s":"r","nm":265.0,"cs":1.3},{"s":"r","nm":265.8,"cs":1.1},{"s":"r","nm":266.6,"cs":1.12},{"s":"r","nm":267.5,"cs":0.98},{"s":"r","nm":268.7,"cs":0.93},{"s":"r","nm":269.5,"cs":0.8},{"s":"r","nm":271,"cs":0.72},{"s":"r","nm":273,"cs":0.6},{"s":"r","nm":276,"cs":0.46},{"s":"r","nm":279.1,"cs":0.36},{"s":"r","nm":282,"cs":0.28},{"s":"r","nm":284.5,"cs":0.23},{"s":"r","nm":287,"cs":0.2},{"s":"r","nm":290,"cs":0.17},{"s":"r","nm":292,"cs":0.15},{"s":"r","nm":295,"cs":0.13},{"s":"r","nm":297.9,"cs":0.11},{"s":"r","nm":300,"cs":0.09},
{"s":"m","nm":166.0,"cs":2.7},{"s":"m","nm":166.8,"cs":2.65},{"s":"m","nm":168.2,"cs":2.5},{"s":"m","nm":169.7,"cs":2.33},{"s":"m","nm":171.2,"cs":2.2},{"s":"m","nm":172.7,"cs":2.11},{"s":"m","nm":174.2,"cs":2.04},{"s":"m","nm":175.7,"cs":1.95},{"s":"m","nm":177.2,"cs":1.83},{"s":"m","nm":178.7,"cs":1.7},{"s":"m","nm":180.2,"cs":1.52},{"s":"m","nm":181.0,"cs":1.3},{"s":"m","nm":181.6,"cs":1.16},{"s":"m","nm":182.5,"cs":1.19},{"s":"m","nm":183.5,"cs":1.33},{"s":"m","nm":184.8,"cs":1.6},{"s":"m","nm":186.3,"cs":2.02},{"s":"m","nm":187.8,"cs":2.56},{"s":"m","nm":189.3,"cs":3.1},{"s":"m","nm":190.8,"cs":3.46},{"s":"m","nm":192.3,"cs":3.7},{"s":"m","nm":193.3,"cs":3.83},{"s":"m","nm":194.1,"cs":3.86},{"s":"m","nm":195.2,"cs":3.81},{"s":"m","nm":196.3,"cs":3.72},{"s":"m","nm":197.3,"cs":3.55},{"s":"m","nm":198.3,"cs":3.3},{"s":"m","nm":199.3,"cs":3.0},{"s":"m","nm":200.3,"cs":2.68},{"s":"m","nm":201.5,"cs":2.24},{"s":"m","nm":202.8,"cs":1.76},{"s":"m","nm":203.5,"cs":1.5},{"s":"m","nm":204.5,"cs":1.06},{"s":"m","nm":205.8,"cs":0.62},{"s":"m","nm":207,"cs":0.42},{"s":"m","nm":208.3,"cs":0.32},{"s":"m","nm":210.3,"cs":0.19},{"s":"m","nm":212.3,"cs":0.13},{"s":"m","nm":215.3,"cs":0.09},{"s":"m","nm":218.3,"cs":0.07},{"s":"m","nm":222.4,"cs":0.07},{"s":"m","nm":225.4,"cs":0.08},{"s":"m","nm":228.4,"cs":0.11},{"s":"m","nm":230.4,"cs":0.17},{"s":"m","nm":232,"cs":0.27},{"s":"m","nm":233.5,"cs":0.43},{"s":"m","nm":234.6,"cs":0.64},{"s":"m","nm":235.6,"cs":0.95},{"s":"m","nm":236.5,"cs":1.32},{"s":"m","nm":237.4,"cs":1.73},{"s":"m","nm":238.4,"cs":2.08},{"s":"m","nm":239.4,"cs":2.3},{"s":"m","nm":240.4,"cs":2.43},{"s":"m","nm":241.9,"cs":2.54},{"s":"m","nm":243.4,"cs":2.6},{"s":"m","nm":245,"cs":2.63},{"s":"m","nm":246.4,"cs":2.64},{"s":"m","nm":248.4,"cs":2.61},{"s":"m","nm":250.4,"cs":2.54},{"s":"m","nm":252.4,"cs":2.43},{"s":"m","nm":254.4,"cs":2.29},{"s":"m","nm":256.5,"cs":2.11},{"s":"m","nm":258.5,"cs":1.92},{"s":"m","nm":260.5,"cs":1.72},{"s":"m","nm":262.5,"cs":1.5},{"s":"m","nm":264.5,"cs":1.29},{"s":"m","nm":266.5,"cs":1.09},{"s":"m","nm":268.7,"cs":0.89},{"s":"m","nm":271,"cs":0.71},{"s":"m","nm":273,"cs":0.58},{"s":"m","nm":276,"cs":0.44},{"s":"m","nm":279.1,"cs":0.34},{"s":"m","nm":282,"cs":0.26},{"s":"m","nm":284.5,"cs":0.21},{"s":"m","nm":287,"cs":0.17},{"s":"m","nm":290,"cs":0.14},{"s":"m","nm":295,"cs":0.1},{"s":"m","nm":300,"cs":0.07}
]},
"spacing":109.6,
"bounds":"flush",
"resolve":{"scale":{"x":"independent","y":"independent","color":"independent","shape":"independent","strokeDash":"independent"},"legend":{"color":"independent","shape":"independent","strokeDash":"independent"}},
"hconcat":[
{"width":486,"height":329.4,"title":{"text":"cs KCl 824-882C","offset":-21},
"resolve":{"axis":{"x":"independent","y":"independent"}},
"layer":[
{"data":{"name":"L"},"mark":{"type":"line","strokeWidth":1.3},
"encoding":{
"x":{"field":"nm","type":"quantitative","scale":{"domain":[120,166],"nice":false,"zero":false},"axis":{"orient":"bottom","values":[120,130,140,150,160],"tickSize":6,"title":"nm","titleFontSize":15,"titlePadding":6,"labelFontSize":13,"labelPadding":4,"labelFlush":false}},
"y":{"field":"cs","type":"quantitative","scale":{"domain":[-0.175,6],"nice":false,"zero":false},"axis":{"orient":"left","values":[0,1,2,3,4,5,6],"labelExpr":"datum.value==0?'0E+00':datum.value+'E-17'","tickSize":6,"title":"cs/cm2 molecule-1","titleFontSize":15,"titlePadding":1,"labelFontSize":13,"labelPadding":4}},
"color":{"field":"s","type":"nominal","scale":{"domain":["r","m","g","n","b","k","p"],"range":["#ff2a2a","#800000","#1f8f1f","#888888","#000000","#000000","#9933ff"]}},
"strokeDash":{"field":"s","type":"nominal","scale":{"domain":["r","m","g","n","b","k","p"],"range":[[1,0],[1,0],[1,0],[2,2],[1,0],[1,0],[1,0]]}}}},
{"data":{"values":[{"z":0}]},"mark":{"type":"rule","color":"#000","strokeWidth":1},"encoding":{"y":{"field":"z","type":"quantitative","scale":{"domain":[-0.175,6],"nice":false,"zero":false},"axis":null}}},
{"data":{"name":"L"},"transform":[{"filter":"datum.s=='k'"}],"mark":{"type":"point","shape":"circle","filled":false,"size":18,"color":"#555555","strokeWidth":0.8},
"encoding":{"x":{"field":"nm","type":"quantitative","scale":{"domain":[120,166],"nice":false,"zero":false},"axis":null},"y":{"field":"cs","type":"quantitative","scale":{"domain":[-0.175,6],"nice":false,"zero":false},"axis":null}}},
{"data":{"values":[{"nm":129.1,"lo":0,"hi":4.5},{"nm":142.0,"lo":0,"hi":4.5},{"nm":147.6,"lo":0,"hi":4.5}]},
"mark":{"type":"rule","color":"#333333","strokeWidth":1.2},
"encoding":{"x":{"field":"nm","type":"quantitative","scale":{"domain":[120,166],"nice":false,"zero":false},"axis":{"orient":"bottom","values":[122,124,126,128,132,134,136,138,142,144,146,148,152,154,156,158,162,164,166],"labels":false,"domain":false,"tickSize":3,"title":null}},
"y":{"field":"lo","type":"quantitative","scale":{"domain":[-0.175,6],"nice":false,"zero":false},"axis":{"orient":"left","values":[0.2,0.4,0.6,0.8,1.2,1.4,1.6,1.8,2.2,2.4,2.6,2.8,3.2,3.4,3.6,3.8,4.2,4.4,4.6,4.8,5.2,5.4,5.6,5.8],"labels":false,"domain":false,"tickSize":3,"title":null}},"y2":{"field":"hi"}}},
{"data":{"values":[{"s":"b","nm":141.9,"cs":4},{"s":"b","nm":142.0,"cs":4},{"s":"b","nm":142.1,"cs":4},{"s":"b","nm":142.2,"cs":4},{"s":"b","nm":142.3,"cs":4},{"s":"b","nm":142.4,"cs":4},{"s":"b","nm":142.5,"cs":4},{"s":"b","nm":142.6,"cs":4},{"s":"b","nm":142.7,"cs":4},{"s":"b","nm":142.85,"cs":4},{"s":"b","nm":143.0,"cs":4},{"s":"b","nm":143.15,"cs":4},{"s":"b","nm":143.3,"cs":4},{"s":"b","nm":143.5,"cs":4},{"s":"b","nm":143.7,"cs":4},{"s":"b","nm":143.95,"cs":4},{"s":"b","nm":144.3,"cs":4},{"s":"b","nm":144.8,"cs":4},{"s":"b","nm":145.4,"cs":4},{"s":"b","nm":145.9,"cs":4},{"s":"b","nm":146.4,"cs":4},{"s":"b","nm":147.0,"cs":4},{"s":"b","nm":147.7,"cs":4},{"s":"b","nm":148.2,"cs":4},{"s":"b","nm":148.7,"cs":4},{"s":"b","nm":150.3,"cs":4},{"s":"b","nm":151.2,"cs":4},{"s":"b","nm":152.1,"cs":4},{"s":"b","nm":155.0,"cs":4},{"s":"b","nm":157.3,"cs":4},{"s":"b","nm":159.1,"cs":4}]},
"mark":{"type":"point","filled":false,"size":100,"strokeWidth":1},
"encoding":{"x":{"field":"nm","type":"quantitative","scale":{"domain":[120,166],"nice":false,"zero":false},"axis":null},
"y":{"field":"cs","type":"quantitative","scale":{"domain":[-0.175,6],"nice":false,"zero":false},"axis":null},
"color":{"field":"s","type":"nominal","scale":{"domain":["r","m","g","n","b","k","p"],"range":["#ff2a2a","#800000","#1f8f1f","#888888","#000000","#000000","#9933ff"]},
"legend":{"orient":"none","legendX":141.9,"legendY":-25.3,"title":null,"labelFontSize":8,"labelFont":"Liberation Sans","labelColor":"#222","symbolSize":72,"symbolStrokeWidth":1.2,"rowPadding":0.7,"padding":3,"strokeColor":"#8c8c8c","fillColor":"#ffffff","symbolOffset":24,"labelOffset":31.5,"labelLimit":340,
"labelExpr":"datum.label=='r'?'cs (882C) from 04-11-2016 860C Ar in av #6+#7 KCl 36+46min 200aq after FT-filter':datum.label=='m'?'cs (824C) from 03-11-2016 800C Ar in #8 KCl 60min 100aq after FT-filter':datum.label=='g'?'cs (882C) from 02-11-2016 860C N2 in #4 KCl 57min 100aq after FT-filter':datum.label=='n'?'N2 LBH system':datum.label=='b'?'band heads K⁺+Cl(2P)':datum.label=='k'?'He I (21.2eV/58.4nm) PES KCl /rel. intensity from Goodman et al 1974':'He I (21.2eV/58.4nm) PES KCl /rel. intensity from Goodman et al 1973'"}},
"shape":{"field":"s","type":"nominal","scale":{"domain":["r","m","g","n","b","k","p"],"range":["M-2.6,0H2.6","M-2.6,0H2.6","M-2.6,0H2.6","M-2.6,0H-1.7M-1.1,0H-0.2M0.4,0H1.3M1.9,0H2.6","M-0.9,0H0.9M0,-0.9V0.9","M-2.6,0H-0.55M0.55,0H2.6M-0.55,0A0.55,0.55 0 1,1 0.55,0A0.55,0.55 0 1,1 -0.55,0","M-2.6,0H2.6"]},
"legend":{"orient":"none","legendX":141.9,"legendY":-25.3,"title":null,"labelFontSize":8,"labelFont":"Liberation Sans","labelColor":"#222","symbolSize":72,"symbolStrokeWidth":1.2,"rowPadding":0.7,"padding":3,"strokeColor":"#8c8c8c","fillColor":"#ffffff","symbolOffset":24,"labelOffset":31.5,"labelLimit":340,
"labelExpr":"datum.label=='r'?'cs (882C) from 04-11-2016 860C Ar in av #6+#7 KCl 36+46min 200aq after FT-filter':datum.label=='m'?'cs (824C) from 03-11-2016 800C Ar in #8 KCl 60min 100aq after FT-filter':datum.label=='g'?'cs (882C) from 02-11-2016 860C N2 in #4 KCl 57min 100aq after FT-filter':datum.label=='n'?'N2 LBH system':datum.label=='b'?'band heads K⁺+Cl(2P)':datum.label=='k'?'He I (21.2eV/58.4nm) PES KCl /rel. intensity from Goodman et al 1974':'He I (21.2eV/58.4nm) PES KCl /rel. intensity from Goodman et al 1973'"}}}},
{"data":{"values":[{"nm":131.4,"cs":4.7,"t":"K2Cl2 ionization"},{"nm":142.2,"cs":4.75,"t":"K⁺"},{"nm":149.5,"cs":4.7,"t":"KCl ionization"},{"nm":155.3,"cs":4.26,"t":"K(6p)+Cl(2P)"}]},
"mark":{"type":"text","fontSize":10,"color":"#222","align":"center","baseline":"middle"},
"encoding":{"x":{"field":"nm","type":"quantitative","scale":{"domain":[120,166],"nice":false,"zero":false},"axis":null},"y":{"field":"cs","type":"quantitative","scale":{"domain":[-0.175,6],"nice":false,"zero":false},"axis":null},"text":{"field":"t"}}},
{"data":{"values":[{"nm":129.25,"cs":2.86,"t":"K2Cl+"},{"nm":142.4,"cs":2.73,"t":"KCl+"}]},
"mark":{"type":"text","fontSize":16,"color":"#111","align":"center","baseline":"middle"},
"encoding":{"x":{"field":"nm","type":"quantitative","scale":{"domain":[120,166],"nice":false,"zero":false},"axis":null},"y":{"field":"cs","type":"quantitative","scale":{"domain":[-0.175,6],"nice":false,"zero":false},"axis":null},"text":{"field":"t"}}},
{"data":{"values":[{"nm":157.8,"cs":3.32,"t":"882C/Ar"}]},
"mark":{"type":"text","fontSize":16,"color":"#ff2a2a","align":"center","baseline":"middle"},
"encoding":{"x":{"field":"nm","type":"quantitative","scale":{"domain":[120,166],"nice":false,"zero":false},"axis":null},"y":{"field":"cs","type":"quantitative","scale":{"domain":[-0.175,6],"nice":false,"zero":false},"axis":null},"text":{"field":"t"}}},
{"data":{"values":[{"nm":159.3,"cs":1.86,"t":"824C/Ar"}]},
"mark":{"type":"text","fontSize":16,"color":"#8b1a1a","align":"center","baseline":"middle"},
"encoding":{"x":{"field":"nm","type":"quantitative","scale":{"domain":[120,166],"nice":false,"zero":false},"axis":null},"y":{"field":"cs","type":"quantitative","scale":{"domain":[-0.175,6],"nice":false,"zero":false},"axis":null},"text":{"field":"t"}}},
{"data":{"values":[{"nm":151.7,"cs":1.42,"t":"882C/N2"}]},
"mark":{"type":"text","fontSize":16,"color":"#1f8f1f","align":"center","baseline":"middle"},
"encoding":{"x":{"field":"nm","type":"quantitative","scale":{"domain":[120,166],"nice":false,"zero":false},"axis":null},"y":{"field":"cs","type":"quantitative","scale":{"domain":[-0.175,6],"nice":false,"zero":false},"axis":null},"text":{"field":"t"}}}
]},
{"width":497.7,"height":338,"title":{"text":"cs KCl 824-882C","offset":-24.5},
"resolve":{"axis":{"x":"independent","y":"independent"}},
"layer":[
{"data":{"name":"R"},"mark":{"type":"line","strokeWidth":1.3},
"encoding":{
"x":{"field":"nm","type":"quantitative","scale":{"domain":[166,300],"nice":false,"zero":false},"axis":{"orient":"bottom","values":[170,180,190,200,210,220,230,240,250,260,270,280,290,300],"tickSize":6,"title":"nm","titleFontSize":15,"titlePadding":6,"labelFontSize":13,"labelPadding":4,"labelFlush":false}},
"y":{"field":"cs","type":"quantitative","scale":{"domain":[-0.226,6],"nice":false,"zero":false},"axis":{"orient":"left","values":[0,1,2,3,4,5,6],"labelExpr":"datum.value==0?'0E+00':datum.value+'E-17'","tickSize":6,"title":"cs/cm2 molecule-1","titleFontSize":15,"titlePadding":1,"labelFontSize":13,"labelPadding":4}},
"color":{"field":"s","type":"nominal","scale":{"domain":["r","g","m","p","f","t","fo","b","d","o","k"],"range":["#ff0000","#2f9a2f","#6e1616","#9b30ff","#ff1f8f","#7070ff","#ff5cff","#000000","#ffad5c","#0000ff","#666666"]}}}},
{"data":{"values":[{"z":0}]},"mark":{"type":"rule","color":"#000","strokeWidth":1},"encoding":{"y":{"field":"z","type":"quantitative","scale":{"domain":[-0.226,6],"nice":false,"zero":false},"axis":null}}},
{"data":{"name":"R"},"transform":[{"filter":"datum.s=='t'||datum.s=='d'||datum.s=='k'"}],"mark":{"type":"point","shape":"circle","filled":false,"size":16,"strokeWidth":0.9},
"encoding":{"x":{"field":"nm","type":"quantitative","scale":{"domain":[166,300],"nice":false,"zero":false},"axis":null},"y":{"field":"cs","type":"quantitative","scale":{"domain":[-0.226,6],"nice":false,"zero":false},"axis":null},
"color":{"field":"s","type":"nominal","scale":{"domain":["r","g","m","p","f","t","fo","b","d","o","k"],"range":["#ff0000","#2f9a2f","#6e1616","#9b30ff","#ff1f8f","#7070ff","#ff5cff","#000000","#ffad5c","#0000ff","#666666"]}}}},
{"data":{"name":"R"},"transform":[{"filter":"datum.s=='fo'"}],"mark":{"type":"point","shape":"triangle-up","filled":false,"size":14,"strokeWidth":0.9,"color":"#ff5cff"},
"encoding":{"x":{"field":"nm","type":"quantitative","scale":{"domain":[166,300],"nice":false,"zero":false},"axis":null},"y":{"field":"cs","type":"quantitative","scale":{"domain":[-0.226,6],"nice":false,"zero":false},"axis":null}}},
{"data":{"values":[{"s":"o","nm":193.8,"cs":4.12,"lo":3.7,"hi":4.73}]},"mark":{"type":"rule","color":"#8080ff","strokeWidth":1},"encoding":{"x":{"field":"nm","type":"quantitative","scale":{"domain":[166,300],"nice":false,"zero":false},"axis":null},"y":{"field":"lo","type":"quantitative","scale":{"domain":[-0.226,6],"nice":false,"zero":false},"axis":null},"y2":{"field":"hi"}}},
{"data":{"values":[{"s":"o","nm":193.8,"cs":4.12,"lo":3.7,"hi":4.73}]},"mark":{"type":"tick","orient":"horizontal","color":"#8080ff","size":8,"thickness":1},"encoding":{"x":{"field":"nm","type":"quantitative","scale":{"domain":[166,300],"nice":false,"zero":false},"axis":null},"y":{"field":"lo","type":"quantitative","scale":{"domain":[-0.226,6],"nice":false,"zero":false},"axis":null}}},
{"data":{"values":[{"s":"o","nm":193.8,"cs":4.12,"lo":3.7,"hi":4.73}]},"mark":{"type":"tick","orient":"horizontal","color":"#8080ff","size":8,"thickness":1},"encoding":{"x":{"field":"nm","type":"quantitative","scale":{"domain":[166,300],"nice":false,"zero":false},"axis":null},"y":{"field":"hi","type":"quantitative","scale":{"domain":[-0.226,6],"nice":false,"zero":false},"axis":null}}},
{"data":{"values":[{"s":"o","nm":193.8,"cs":4.12,"lo":3.7,"hi":4.73}]},"mark":{"type":"point","shape":"circle","filled":true,"size":45,"color":"#0000ff","opacity":1},"encoding":{"x":{"field":"nm","type":"quantitative","scale":{"domain":[166,300],"nice":false,"zero":false},"axis":{"orient":"bottom","values":[166,168,172,174,176,178,182,184,186,188,192,194,196,198,202,204,206,208,212,214,216,218,222,224,226,228,232,234,236,238,242,244,246,248,252,254,256,258,262,264,266,268,272,274,276,278,282,284,286,288,292,294,296,298],"labels":false,"domain":false,"tickSize":3.5,"title":null}},"y":{"field":"cs","type":"quantitative","scale":{"domain":[-0.226,6],"nice":false,"zero":false},"axis":{"orient":"left","values":[0.2,0.4,0.6,0.8,1.2,1.4,1.6,1.8,2.2,2.4,2.6,2.8,3.2,3.4,3.6,3.8,4.2,4.4,4.6,4.8,5.2,5.4,5.6,5.8],"labels":false,"domain":false,"tickSize":3,"title":null}}}},
{"data":{"values":[{"s":"b","nm":166.7,"cs":4},{"s":"b","nm":175.2,"cs":4},{"s":"b","nm":177.2,"cs":4},{"s":"b","nm":206.8,"cs":4},{"s":"b","nm":242.4,"cs":4},{"s":"b","nm":282.5,"cs":4}]},
"mark":{"type":"point","filled":false,"size":100,"strokeWidth":1},
"encoding":{"x":{"field":"nm","type":"quantitative","scale":{"domain":[166,300],"nice":false,"zero":false},"axis":null},
"y":{"field":"cs","type":"quantitative","scale":{"domain":[-0.226,6],"nice":false,"zero":false},"axis":null},
"color":{"field":"s","type":"nominal","scale":{"domain":["r","g","m","p","f","t","fo","b","d","o","k"],"range":["#ff0000","#2f9a2f","#6e1616","#9b30ff","#ff1f8f","#7070ff","#ff5cff","#000000","#ffad5c","#0000ff","#666666"]},
"legend":{"orient":"none","legendX":149,"legendY":-28.7,"title":null,"labelFontSize":8,"labelFont":"Liberation Sans","labelColor":"#222","symbolSize":72,"symbolStrokeWidth":1.2,"rowPadding":0.7,"padding":3,"strokeColor":"#8c8c8c","fillColor":"#ffffff","symbolOffset":24,"labelOffset":31.5,"labelLimit":316,
"labelExpr":"datum.label=='r'?'cs (882C) from 04-11-2016 860C Ar in av #6+#7 KCl 36+46min 200aq':datum.label=='g'?'cs (882C) from 02-11-2016 860C N2 in #4 KCl 57min 100aq':datum.label=='m'?'cs (824C) from 03-11-2016 800C Ar in #8 KCl 60min 100aq':datum.label=='p'?'cs (882C) from 04-11-2016 860C Ar in av #6+#7 KCl 36+46min 200aq after FT-filter':datum.label=='f'?'cs (824C) from 03-11-2016 800C Ar in #8 KCl 60min 100aq after FT-filter':datum.label=='t'?'cs KCl/800C/bar from Tomas 2015':datum.label=='fo'?'cs KCl/860C/bar from Forsberg et al 2009':datum.label=='b'?'band heads K⁺+Cl(2P)':datum.label=='d'?'cs KCl from Davidovits 1968 841..951C':datum.label=='o'?'cs KCl from Oldenburg et al 1986 850C':'He I (21.2eV/58.4nm) PES KCl /rel. intensity from Goodman et al 1974'"}},
"shape":{"field":"s","type":"nominal","scale":{"domain":["r","g","m","p","f","t","fo","b","d","o","k"],"range":["M-2.6,0H2.6","M-2.6,0H2.6","M-2.6,0H2.6","M-2.6,0H2.6","M-2.6,0H2.6","M-2.6,0H-0.55M0.55,0H2.6M-0.55,0A0.55,0.55 0 1,1 0.55,0A0.55,0.55 0 1,1 -0.55,0","M-2.6,0H2.6M0,-0.6L0.6,0.45H-0.6Z","M-0.9,0H0.9M0,-0.9V0.9","M-2.6,0H-0.55M0.55,0H2.6M-0.55,0A0.55,0.55 0 1,1 0.55,0A0.55,0.55 0 1,1 -0.55,0","M-0.7,0A0.7,0.7 0 1,1 0.7,0A0.7,0.7 0 1,1 -0.7,0","M-2.6,0H-0.55M0.55,0H2.6M-0.55,0A0.55,0.55 0 1,1 0.55,0A0.55,0.55 0 1,1 -0.55,0"]},
"legend":{"orient":"none","legendX":149,"legendY":-28.7,"title":null,"labelFontSize":8,"labelFont":"Liberation Sans","labelColor":"#222","symbolSize":72,"symbolStrokeWidth":1.2,"rowPadding":0.7,"padding":3,"strokeColor":"#8c8c8c","fillColor":"#ffffff","symbolOffset":24,"labelOffset":31.5,"labelLimit":316,
"labelExpr":"datum.label=='r'?'cs (882C) from 04-11-2016 860C Ar in av #6+#7 KCl 36+46min 200aq':datum.label=='g'?'cs (882C) from 02-11-2016 860C N2 in #4 KCl 57min 100aq':datum.label=='m'?'cs (824C) from 03-11-2016 800C Ar in #8 KCl 60min 100aq':datum.label=='p'?'cs (882C) from 04-11-2016 860C Ar in av #6+#7 KCl 36+46min 200aq after FT-filter':datum.label=='f'?'cs (824C) from 03-11-2016 800C Ar in #8 KCl 60min 100aq after FT-filter':datum.label=='t'?'cs KCl/800C/bar from Tomas 2015':datum.label=='fo'?'cs KCl/860C/bar from Forsberg et al 2009':datum.label=='b'?'band heads K⁺+Cl(2P)':datum.label=='d'?'cs KCl from Davidovits 1968 841..951C':datum.label=='o'?'cs KCl from Oldenburg et al 1986 850C':'He I (21.2eV/58.4nm) PES KCl /rel. intensity from Goodman et al 1974'"}}}},
{"data":{"values":[{"nm":178.7,"cs":4.25,"t":"K(5s)+Cl(2P)"},{"nm":176.7,"cs":3.73,"t":"K(3d)+Cl(2P)"},{"nm":209.5,"cs":3.72,"t":"K(4p)+Cl(2P)"},{"nm":242.6,"cs":3.7,"t":"K⁺+Cl⁻"},{"nm":284.0,"cs":3.72,"t":"K(4s)+Cl(2P)"}]},
"mark":{"type":"text","fontSize":10.5,"color":"#222","align":"center","baseline":"middle"},
"encoding":{"x":{"field":"nm","type":"quantitative","scale":{"domain":[166,300],"nice":false,"zero":false},"axis":null},"y":{"field":"cs","type":"quantitative","scale":{"domain":[-0.226,6],"nice":false,"zero":false},"axis":null},"text":{"field":"t"}}},
{"data":{"values":[{"nm":177.2,"cs":3.04,"t":"882C/Ar"}]},
"mark":{"type":"text","fontSize":17,"color":"#ff1a1a","align":"center","baseline":"middle"},
"encoding":{"x":{"field":"nm","type":"quantitative","scale":{"domain":[166,300],"nice":false,"zero":false},"axis":null},"y":{"field":"cs","type":"quantitative","scale":{"domain":[-0.226,6],"nice":false,"zero":false},"axis":null},"text":{"field":"t"}}},
{"data":{"values":[{"nm":178.2,"cs":2.5,"t":"824C/Ar"}]},
"mark":{"type":"text","fontSize":17,"color":"#7a1c1c","align":"center","baseline":"middle"},
"encoding":{"x":{"field":"nm","type":"quantitative","scale":{"domain":[166,300],"nice":false,"zero":false},"axis":null},"y":{"field":"cs","type":"quantitative","scale":{"domain":[-0.226,6],"nice":false,"zero":false},"axis":null},"text":{"field":"t"}}},
{"data":{"values":[{"nm":176.1,"cs":0.72,"t":"882C/N2"}]},
"mark":{"type":"text","fontSize":17,"color":"#2f9a2f","align":"center","baseline":"middle"},
"encoding":{"x":{"field":"nm","type":"quantitative","scale":{"domain":[166,300],"nice":false,"zero":false},"axis":null},"y":{"field":"cs","type":"quantitative","scale":{"domain":[-0.226,6],"nice":false,"zero":false},"axis":null},"text":{"field":"t"}}}
]}
]
}
